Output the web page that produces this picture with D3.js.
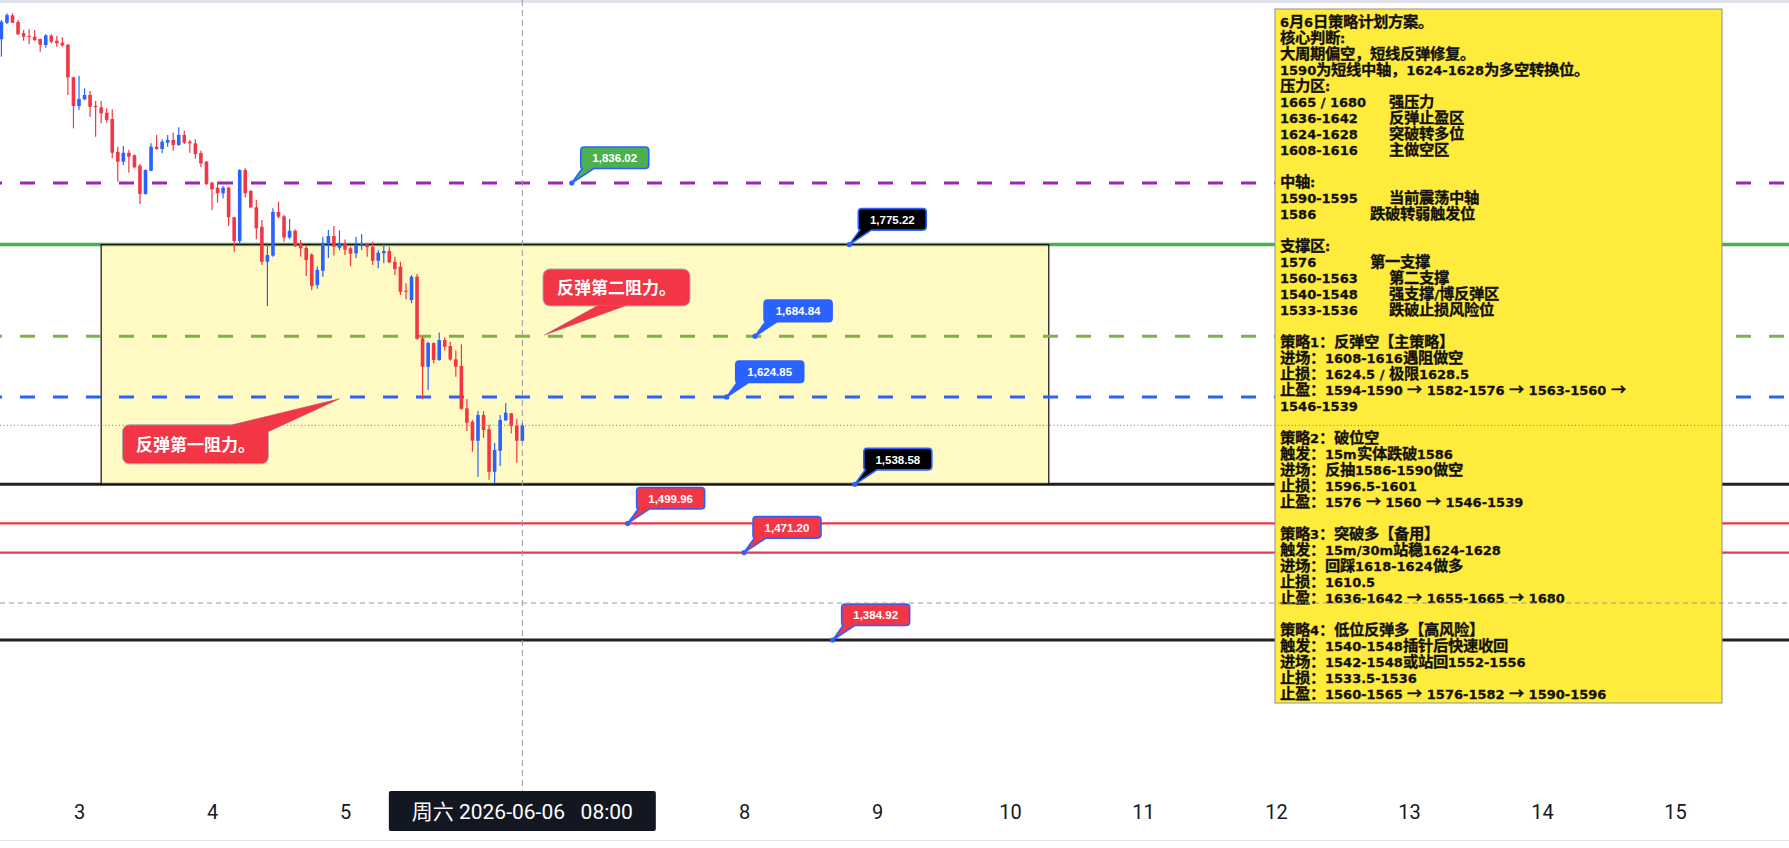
<!DOCTYPE html>
<html><head><meta charset="utf-8">
<script src="https://cdn.jsdelivr.net/npm/d3@7/dist/d3.min.js"></script>
<style>
@font-face { font-family: "CJKBox"; src: local("Noto Sans CJK SC Bold"), local("NotoSansCJKsc-Bold"), local("Noto Sans CJK SC"); font-weight: 700; unicode-range: U+2190-21FF, U+3000-303F, U+3400-9FFF, U+FF00-FFEF; size-adjust: 118%; }
html,body{margin:0;padding:0;background:#fff;overflow:hidden}
svg{display:block}
text.pre{white-space:pre}
</style></head><body><div id="chart"></div><script>
// ---------- DATA ----------
const firstCandle = "2026-06-02T10:00:00Z"; // hourly candles
const opens  = [1977.9,1994.2,2001.5,1994.9,1983.8,1981.1,1980.4,1978.2,1972.2,1981.4,1976.5,1974.5,1972.5,1940.3,1912.0,1918.6,1922.9,1912.0,1910.7,1905.4,1899.2,1866.6,1857.0,1865.9,1863.4,1853.1,1825.2,1848.1,1871.9,1869.6,1875.8,1878.5,1873.5,1883.4,1876.8,1875.2,1865.6,1857.0,1836.3,1831.4,1825.9,1831.4,1802.2,1778.8,1848.8,1828.1,1812.0,1792.9,1758.3,1764.3,1807.4,1803.1,1782.2,1788.9,1776.5,1771.9,1765.2,1735.3,1749.4,1776.5,1783.7,1772.1,1776.5,1771.6,1766.6,1774.0,1775.5,1773.1,1759.3,1766.6,1768.9,1758.3,1753.4,1729.7,1720.5,1743.5,1682.7,1654.7,1678.1,1661.3,1681.0,1675.1,1662.0,1655.4,1613.6,1600.3,1581.6,1607.0,1592.9,1551.0,1571.8,1601.7,1608.7,1596.2,1581.6];
const highs  = [1996.9,2003.5,2003.5,1996.9,1987.0,1987.7,1987.0,1978.5,1982.8,1982.8,1981.1,1979.8,1973.2,1940.9,1941.6,1929.5,1926.8,1916.9,1916.9,1909.7,1908.8,1871.9,1872.5,1868.6,1864.3,1854.8,1849.5,1875.2,1883.4,1879.2,1883.4,1885.6,1891.0,1887.6,1878.5,1879.2,1867.9,1857.7,1837.3,1837.3,1833.0,1832.4,1802.8,1849.5,1850.5,1829.1,1819.2,1799.5,1776.5,1811.0,1817.6,1804.4,1800.5,1790.3,1779.7,1773.8,1766.6,1753.6,1783.0,1789.6,1793.6,1789.1,1780.2,1773.1,1783.0,1785.6,1776.5,1778.1,1769.9,1776.5,1773.1,1763.3,1758.3,1737.0,1745.2,1746.2,1684.3,1679.4,1678.5,1688.5,1683.8,1679.4,1670.8,1676.9,1622.8,1602.1,1611.2,1610.8,1597.5,1579.4,1607.0,1618.6,1609.0,1603.3,1598.8];
const lows   = [1960.7,1993.0,1994.0,1982.0,1976.5,1972.9,1976.2,1965.6,1969.6,1973.9,1970.6,1970.6,1922.9,1890.0,1908.1,1917.9,1901.5,1881.7,1894.9,1895.5,1860.4,1837.3,1853.8,1846.2,1850.5,1815.3,1824.5,1847.5,1868.6,1865.3,1871.9,1867.9,1872.8,1874.5,1865.9,1860.0,1851.5,1834.0,1809.4,1816.6,1820.9,1793.6,1768.2,1776.5,1821.9,1811.0,1780.4,1755.1,1714.6,1763.3,1801.2,1778.1,1780.7,1772.8,1763.3,1744.2,1730.1,1731.6,1743.5,1762.0,1764.5,1769.6,1764.9,1753.7,1762.0,1769.9,1763.3,1755.1,1751.8,1756.7,1756.7,1745.2,1725.5,1721.2,1717.3,1681.0,1622.5,1631.7,1658.0,1660.6,1670.7,1660.8,1644.8,1612.2,1591.2,1570.8,1546.1,1584.3,1543.2,1539.9,1556.7,1601.4,1588.9,1559.9,1581.3];
const closes = [1995.2,2001.8,1994.2,1982.8,1980.4,1980.4,1977.2,1972.5,1981.8,1975.5,1973.9,1971.9,1940.3,1912.0,1918.9,1922.9,1911.3,1911.0,1904.8,1898.2,1865.9,1857.0,1865.9,1862.0,1851.5,1825.2,1848.8,1871.9,1869.6,1876.8,1878.5,1873.5,1883.4,1875.8,1875.2,1864.6,1855.4,1835.0,1829.8,1825.9,1831.4,1802.2,1778.8,1848.8,1825.9,1812.0,1791.3,1758.3,1764.9,1807.4,1802.7,1782.2,1788.9,1773.8,1771.6,1760.0,1734.3,1750.2,1776.8,1783.7,1773.1,1776.8,1770.2,1766.2,1774.8,1775.6,1772.6,1759.3,1767.2,1768.9,1757.7,1751.1,1728.7,1728.7,1743.5,1682.2,1654.7,1678.1,1661.3,1681.0,1674.4,1661.8,1654.7,1613.1,1599.4,1581.6,1607.0,1592.2,1551.0,1572.5,1602.1,1609.3,1596.2,1581.6,1596.8];

const levelPrices = [1836.02, 1775.22, 1684.84, 1624.85, 1538.58, 1499.96, 1471.20, 1384.92];
const levelLabelTimes = ["2026-06-06T16:55:00Z","2026-06-08T19:00:00Z","2026-06-08T02:00:00Z","2026-06-07T20:53:00Z","2026-06-08T20:00:00Z","2026-06-07T03:00:00Z","2026-06-08T00:00:00Z","2026-06-08T16:00:00Z"];

const zoneStart = "2026-06-03T04:00:00Z", zoneEnd = "2026-06-10T07:00:00Z";
const zoneTop = 1775.22, zoneBottom = 1538.58;

const crossTime = "2026-06-06T08:00:00Z";
const crossPrice = 1421.4;

const noteTexts  = ["反弹第一阻力。", "反弹第二阻力。"];
const noteTimes  = ["2026-06-04T23:00:00Z", "2026-06-06T12:00:00Z"];
const notePrices = [1623.0, 1686.0];

const axisStart = "2026-06-03T00:00:00Z", axisEnd = "2026-06-15T00:00:00Z";
const weekdayNames = ["周日","周一","周二","周三","周四","周五","周六"];

const planLines = [
"6月6日策略计划方案。",
"核心判断:",
"大周期偏空，短线反弹修复。",
"1590为短线中轴，1624-1628为多空转换位。",
"压力区:",
"1665 / 1680     强压力",
"1636-1642       反弹止盈区",
"1624-1628       突破转多位",
"1608-1616       主做空区",
"",
"中轴:",
"1590-1595       当前震荡中轴",
"1586            跌破转弱触发位",
"",
"支撑区:",
"1576            第一支撑",
"1560-1563       第二支撑",
"1540-1548       强支撑/博反弹区",
"1533-1536       跌破止损风险位",
"",
"策略1：反弹空【主策略】",
"进场：1608-1616遇阻做空",
"止损：1624.5 / 极限1628.5",
"止盈：1594-1590 → 1582-1576 → 1563-1560 →",
"1546-1539",
"",
"策略2：破位空",
"触发：15m实体跌破1586",
"进场：反抽1586-1590做空",
"止损：1596.5-1601",
"止盈：1576 → 1560 → 1546-1539",
"",
"策略3：突破多【备用】",
"触发：15m/30m站稳1624-1628",
"进场：回踩1618-1624做多",
"止损：1610.5",
"止盈：1636-1642 → 1655-1665 → 1680",
"",
"策略4：低位反弹多【高风险】",
"触发：1540-1548插针后快速收回",
"进场：1542-1548或站回1552-1556",
"止损：1533.5-1536",
"止盈：1560-1565 → 1576-1582 → 1590-1596"
];

// ---------- DRAW ----------
const W = 1789, H = 848;
const UP = "#2962FF", DOWN = "#F23645";
const x = d3.scaleUtc().domain([new Date(axisStart), new Date(axisEnd)]).range([79, 1675]);
const y = d3.scaleLinear().domain([1384.92, 1836.02]).range([640, 183]);

const t0 = new Date(firstCandle);
const candles = opens.map((o,i)=>({t:d3.utcHour.offset(t0,i), o, h:highs[i], l:lows[i], c:closes[i]}));

const svg = d3.select("#chart").append("svg").attr("width",W).attr("height",H);
svg.append("rect").attr("width",W).attr("height",H).attr("fill","#fff");
svg.append("rect").attr("width",W).attr("height",3).attr("fill","#e0e3eb");

const levelStyle = [
  {c:"#9C27B0", w:3,   dash:"15 18", above:false},
  {c:"#4CAF50", w:3.5, dash:null,    above:false},
  {c:"#7CB342", w:3,   dash:"15 18", above:true},
  {c:"#2962FF", w:3,   dash:"15 18", above:true},
  {c:"#212121", w:3,   dash:null,    above:false},
  {c:"#F23645", w:2.3, dash:null,    above:false},
  {c:"#F23645", w:2.3, dash:null,    above:false},
  {c:"#212121", w:3,   dash:null,    above:false}
];
const labelFill = ["#4CAF50","#000000","#2962FF","#2962FF","#000000","#F23645","#F23645","#F23645"];

function drawLevels(g, above){
  levelPrices.forEach((p,i)=>{
    const s = levelStyle[i];
    if (s.above !== above) return;
    g.append("line").attr("x1",0).attr("x2",W).attr("y1",y(p)).attr("y2",y(p))
      .attr("stroke",s.c).attr("stroke-width",s.w)
      .attr("stroke-dasharray",s.dash).attr("stroke-dashoffset",13);
  });
}
drawLevels(svg.append("g"), false);

// zone rectangle
svg.append("rect")
  .attr("x",x(new Date(zoneStart))).attr("y",y(zoneTop))
  .attr("width",x(new Date(zoneEnd))-x(new Date(zoneStart)))
  .attr("height",y(zoneBottom)-y(zoneTop))
  .attr("fill","rgba(255,235,59,0.3)").attr("stroke","#111").attr("stroke-width",1.2);

drawLevels(svg.append("g"), true);

// vertical crosshair
const cx = x(new Date(crossTime));
svg.append("line").attr("x1",cx).attr("x2",cx).attr("y1",0).attr("y2",791)
  .attr("stroke","#9598a1").attr("stroke-width",1).attr("stroke-dasharray","6 4");

// candles
const gC = svg.append("g");
gC.selectAll("line").data(candles).join("line")
  .attr("x1",d=>x(d.t)).attr("x2",d=>x(d.t))
  .attr("y1",d=>y(d.h)).attr("y2",d=>y(d.l))
  .attr("stroke",d=>d.c>=d.o?UP:DOWN).attr("stroke-width",1.2);
gC.selectAll("rect").data(candles).join("rect")
  .attr("x",d=>x(d.t)-1.8).attr("width",3.6)
  .attr("y",d=>y(Math.max(d.o,d.c)))
  .attr("height",d=>Math.max(1,Math.abs(y(d.o)-y(d.c))))
  .attr("fill",d=>d.c>=d.o?UP:DOWN);

// level callout labels
const fmt = d3.format(",.2f");
const gL = svg.append("g");
levelPrices.forEach((p,i)=>{
  const px = x(new Date(levelLabelTimes[i])), py = y(p);
  const x0 = px+9, x1 = x0+68, y1 = py-14.5, y0 = y1-21.5, r = 3.5;
  const path = `M${x0+r},${y0} H${x1-r} Q${x1},${y0} ${x1},${y0+r} V${y1-r} Q${x1},${y1} ${x1-r},${y1} H${x0+13} L${px},${py} L${x0+1.5},${y1} Q${x0},${y1} ${x0},${y1-r} V${y0+r} Q${x0},${y0} ${x0+r},${y0} Z`;
  gL.append("path").attr("d",path).attr("fill",labelFill[i]).attr("stroke","#2962FF").attr("stroke-width",1.6);
  gL.append("circle").attr("cx",px).attr("cy",py).attr("r",2.6).attr("fill","#2962FF");
  gL.append("text").attr("x",(x0+x1)/2).attr("y",y0+15.2).attr("text-anchor","middle")
    .attr("font-family","'Liberation Sans', Arial, sans-serif").attr("font-weight","bold")
    .attr("font-size",11.5).attr("fill","#fff").text(fmt(p));
});

// red note callouts
const gN = svg.append("g");
noteTexts.forEach((txt,i)=>{
  const tx = x(new Date(noteTimes[i])), ty = y(notePrices[i]);
  let bx, by, bw, bh, tail;
  if (i===0){ bw=146; bh=39; bx = tx-217; by=ty+26;
    tail = [[bx+bw-38,by+0.5],[tx,ty],[bx+bw-0.5,by+7]]; }
  else { bw=147; bh=37; bx=tx-1.5; by=ty-29-bh;
    tail = [[bx+55,by+bh-0.5],[tx,ty],[bx+83,by+bh-0.5]]; }
  const tailD = "M"+tail.map(p=>p.join(",")).join("L")+"Z";
  gN.append("path").attr("d",tailD).attr("fill","#F23645").attr("stroke","#b0a8aa").attr("stroke-width",1);
  gN.append("rect").attr("x",bx).attr("y",by).attr("width",bw).attr("height",bh).attr("rx",7)
    .attr("fill","#F23645").attr("stroke","#b0a8aa").attr("stroke-width",1);
  gN.append("path").attr("d",tailD).attr("fill","#F23645");
  gN.append("text").attr("x",bx+bw/2).attr("y",by+bh/2+6.2).attr("text-anchor","middle")
    .attr("font-family","'Noto Sans CJK SC', sans-serif").attr("font-weight","bold")
    .attr("font-size",17).attr("fill","#fff").text(txt);
});

// plan text box
const boxX=1275, boxY=9, boxW=447, boxH=694;
svg.append("rect").attr("x",boxX).attr("y",boxY).attr("width",boxW).attr("height",boxH)
  .attr("fill","#FFEB3B").attr("stroke","#8f8f8f").attr("stroke-width",1);
const gT = svg.append("g");
gT.selectAll("text").data(planLines).join("text")
  .attr("class","pre").attr("xml:space","preserve")
  .attr("font-family","CJKBox, 'DejaVu Sans', 'Noto Sans CJK SC', sans-serif")
  .attr("font-weight","bold").attr("font-size",13).attr("fill","#111")
  .attr("stroke","#111").attr("stroke-width",0.3)
  .attr("x",boxX+5).attr("y",(d,i)=>boxY+18+i*16).text(d=>d);

// current price dotted line & horizontal crosshair (on top)
const lastClose = closes[closes.length-1];
svg.append("line").attr("x1",0).attr("x2",W).attr("y1",y(lastClose)).attr("y2",y(lastClose))
  .attr("stroke","#22AB94").attr("stroke-width",1).attr("stroke-dasharray","1 2.5");
svg.append("line").attr("x1",0).attr("x2",W).attr("y1",y(crossPrice)).attr("y2",y(crossPrice))
  .attr("stroke","#9598a1").attr("stroke-width",1).attr("stroke-dasharray","5 4");

// crosshair date label geometry
const dl = {x0: cx-133.5, x1: cx+133.5};

// x axis (ticks hidden under the crosshair date label are dropped)
const xAxis = d3.axisBottom(x).ticks(d3.utcDay.every(1)).tickFormat(d3.utcFormat("%-d")).tickSize(0).tickPadding(0);
const gx = svg.append("g").attr("transform","translate(0,805)").call(xAxis);
gx.select(".domain").remove();
gx.attr("font-family","Roboto, 'Liberation Sans', sans-serif").attr("font-size",20);
gx.selectAll("text").attr("fill","#131722");
gx.selectAll(".tick").filter(d=>x(d)>dl.x0-12 && x(d)<dl.x1+12).remove();

// crosshair date label
const cd = new Date(crossTime);
const dateTxt = weekdayNames[cd.getUTCDay()]+" "+d3.utcFormat("%Y-%m-%d")(cd)+"   "+d3.utcFormat("%H:%M")(cd);
svg.append("rect").attr("x",dl.x0).attr("y",791).attr("width",dl.x1-dl.x0).attr("height",40).attr("rx",2).attr("fill","#131722");
svg.append("text").attr("class","pre").attr("x",cx).attr("y",818.5).attr("text-anchor","middle")
  .attr("font-family","Roboto, 'Noto Sans CJK SC', sans-serif").attr("font-size",21)
  .attr("fill","#fff").text(dateTxt);

// bottom separator
svg.append("line").attr("x1",0).attr("x2",W).attr("y1",840.5).attr("y2",840.5).attr("stroke","#e0e3eb").attr("stroke-width",1);
</script></body></html>
